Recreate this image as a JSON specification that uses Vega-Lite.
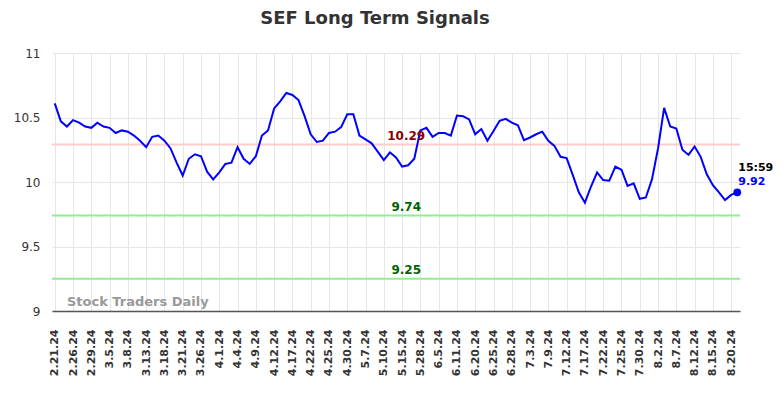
{
  "$schema": "https://vega.github.io/schema/vega-lite/v6.json",
  "width": 688,
  "height": 258,
  "autosize": "none",
  "padding": {"left": 52, "top": 53, "right": 44, "bottom": 87},
  "background": "white",
  "title": {"text": "SEF Long Term Signals", "anchor": "middle", "dx": -21, "offset": 19, "font": "DejaVu Sans", "fontSize": 18, "fontWeight": "bold", "color": "#333333"},
  "config": {"view": {"stroke": null}, "font": "DejaVu Sans"},
  "resolve": {"scale": {"color": "independent"}},
  "datasets": {
    "prices": [
      {"date": "2.21.24", "close": 10.61}, {"date": "2.22.24", "close": 10.47}, {"date": "2.23.24", "close": 10.43},
      {"date": "2.26.24", "close": 10.48}, {"date": "2.27.24", "close": 10.46}, {"date": "2.28.24", "close": 10.43},
      {"date": "2.29.24", "close": 10.42}, {"date": "3.1.24", "close": 10.46}, {"date": "3.4.24", "close": 10.43},
      {"date": "3.5.24", "close": 10.42}, {"date": "3.6.24", "close": 10.38}, {"date": "3.7.24", "close": 10.40},
      {"date": "3.8.24", "close": 10.39}, {"date": "3.11.24", "close": 10.36}, {"date": "3.12.24", "close": 10.32},
      {"date": "3.13.24", "close": 10.27}, {"date": "3.14.24", "close": 10.35}, {"date": "3.15.24", "close": 10.36},
      {"date": "3.18.24", "close": 10.32}, {"date": "3.19.24", "close": 10.26}, {"date": "3.20.24", "close": 10.15},
      {"date": "3.21.24", "close": 10.05}, {"date": "3.22.24", "close": 10.18}, {"date": "3.25.24", "close": 10.215},
      {"date": "3.26.24", "close": 10.20}, {"date": "3.27.24", "close": 10.08}, {"date": "3.28.24", "close": 10.02},
      {"date": "4.1.24", "close": 10.075}, {"date": "4.2.24", "close": 10.14}, {"date": "4.3.24", "close": 10.15},
      {"date": "4.4.24", "close": 10.27}, {"date": "4.5.24", "close": 10.18}, {"date": "4.8.24", "close": 10.14},
      {"date": "4.9.24", "close": 10.20}, {"date": "4.10.24", "close": 10.36}, {"date": "4.11.24", "close": 10.40},
      {"date": "4.12.24", "close": 10.57}, {"date": "4.15.24", "close": 10.625}, {"date": "4.16.24", "close": 10.69},
      {"date": "4.17.24", "close": 10.675}, {"date": "4.18.24", "close": 10.635}, {"date": "4.19.24", "close": 10.51},
      {"date": "4.22.24", "close": 10.37}, {"date": "4.23.24", "close": 10.31}, {"date": "4.24.24", "close": 10.32},
      {"date": "4.25.24", "close": 10.38}, {"date": "4.26.24", "close": 10.39}, {"date": "4.29.24", "close": 10.425},
      {"date": "4.30.24", "close": 10.525}, {"date": "5.2.24", "close": 10.525}, {"date": "5.6.24", "close": 10.36},
      {"date": "5.7.24", "close": 10.33}, {"date": "5.8.24", "close": 10.30}, {"date": "5.9.24", "close": 10.235},
      {"date": "5.10.24", "close": 10.17}, {"date": "5.13.24", "close": 10.23}, {"date": "5.14.24", "close": 10.19},
      {"date": "5.15.24", "close": 10.12}, {"date": "5.20.24", "close": 10.13}, {"date": "5.23.24", "close": 10.18},
      {"date": "5.28.24", "close": 10.40}, {"date": "5.30.24", "close": 10.42}, {"date": "6.3.24", "close": 10.35},
      {"date": "6.5.24", "close": 10.38}, {"date": "6.6.24", "close": 10.38}, {"date": "6.10.24", "close": 10.36},
      {"date": "6.11.24", "close": 10.515}, {"date": "6.13.24", "close": 10.51}, {"date": "6.17.24", "close": 10.485},
      {"date": "6.20.24", "close": 10.37}, {"date": "6.21.24", "close": 10.41}, {"date": "6.24.24", "close": 10.32},
      {"date": "6.25.24", "close": 10.395}, {"date": "6.26.24", "close": 10.475}, {"date": "6.27.24", "close": 10.49},
      {"date": "6.28.24", "close": 10.46}, {"date": "7.1.24", "close": 10.44}, {"date": "7.2.24", "close": 10.325},
      {"date": "7.3.24", "close": 10.345}, {"date": "7.5.24", "close": 10.37}, {"date": "7.8.24", "close": 10.39},
      {"date": "7.9.24", "close": 10.32}, {"date": "7.10.24", "close": 10.28}, {"date": "7.11.24", "close": 10.195},
      {"date": "7.12.24", "close": 10.185}, {"date": "7.15.24", "close": 10.055}, {"date": "7.16.24", "close": 9.92},
      {"date": "7.17.24", "close": 9.84}, {"date": "7.18.24", "close": 9.965}, {"date": "7.19.24", "close": 10.075},
      {"date": "7.22.24", "close": 10.015}, {"date": "7.23.24", "close": 10.01}, {"date": "7.24.24", "close": 10.12},
      {"date": "7.25.24", "close": 10.095}, {"date": "7.26.24", "close": 9.97}, {"date": "7.29.24", "close": 9.99},
      {"date": "7.30.24", "close": 9.87}, {"date": "7.31.24", "close": 9.88}, {"date": "8.1.24", "close": 10.02},
      {"date": "8.2.24", "close": 10.26}, {"date": "8.5.24", "close": 10.575}, {"date": "8.6.24", "close": 10.43},
      {"date": "8.7.24", "close": 10.415}, {"date": "8.8.24", "close": 10.25}, {"date": "8.9.24", "close": 10.21},
      {"date": "8.12.24", "close": 10.275}, {"date": "8.13.24", "close": 10.195}, {"date": "8.14.24", "close": 10.06},
      {"date": "8.15.24", "close": 9.975}, {"date": "8.16.24", "close": 9.92}, {"date": "8.19.24", "close": 9.86},
      {"date": "8.20.24", "close": 9.90}, {"date": "8.21.24", "close": 9.92, "time": "15:59"}
    ],
    "levels": [
      {"level": 10.29, "label": "10.29", "kind": "resistance", "date": "5.20.24"},
      {"level": 9.74, "label": "9.74", "kind": "support", "date": "5.20.24"},
      {"level": 9.25, "label": "9.25", "kind": "support2", "date": "5.20.24"}
    ]
  },
  "encoding": {
    "x": {
      "field": "date", "type": "ordinal", "sort": null, "title": null,
      "scale": {"type": "point", "padding": 0.45, "domain": ["2.21.24","2.22.24","2.23.24","2.26.24","2.27.24","2.28.24","2.29.24","3.1.24","3.4.24","3.5.24","3.6.24","3.7.24","3.8.24","3.11.24","3.12.24","3.13.24","3.14.24","3.15.24","3.18.24","3.19.24","3.20.24","3.21.24","3.22.24","3.25.24","3.26.24","3.27.24","3.28.24","4.1.24","4.2.24","4.3.24","4.4.24","4.5.24","4.8.24","4.9.24","4.10.24","4.11.24","4.12.24","4.15.24","4.16.24","4.17.24","4.18.24","4.19.24","4.22.24","4.23.24","4.24.24","4.25.24","4.26.24","4.29.24","4.30.24","5.2.24","5.6.24","5.7.24","5.8.24","5.9.24","5.10.24","5.13.24","5.14.24","5.15.24","5.20.24","5.23.24","5.28.24","5.30.24","6.3.24","6.5.24","6.6.24","6.10.24","6.11.24","6.13.24","6.17.24","6.20.24","6.21.24","6.24.24","6.25.24","6.26.24","6.27.24","6.28.24","7.1.24","7.2.24","7.3.24","7.5.24","7.8.24","7.9.24","7.10.24","7.11.24","7.12.24","7.15.24","7.16.24","7.17.24","7.18.24","7.19.24","7.22.24","7.23.24","7.24.24","7.25.24","7.26.24","7.29.24","7.30.24","7.31.24","8.1.24","8.2.24","8.5.24","8.6.24","8.7.24","8.8.24","8.9.24","8.12.24","8.13.24","8.14.24","8.15.24","8.16.24","8.19.24","8.20.24","8.21.24"]},
      "axis": {
        "values": ["2.21.24","2.26.24","2.29.24","3.5.24","3.8.24","3.13.24","3.18.24","3.21.24","3.26.24","4.1.24","4.4.24","4.9.24","4.12.24","4.17.24","4.22.24","4.25.24","4.30.24","5.7.24","5.10.24","5.15.24","5.28.24","6.5.24","6.11.24","6.20.24","6.25.24","6.28.24","7.3.24","7.9.24","7.12.24","7.17.24","7.22.24","7.25.24","7.30.24","8.2.24","8.7.24","8.12.24","8.15.24","8.20.24"],
        "labelAngle": -90, "labelFontSize": 11, "labelFontWeight": "bold", "labelColor": "#333333",
        "labelPadding": 18, "ticks": false, "grid": true, "gridColor": "#e6e6e6", "gridWidth": 1,
        "domain": true, "domainColor": "#555555", "domainWidth": 1.5
      }
    }
  },
  "layer": [
    {
      "data": {"name": "levels"},
      "mark": {"type": "rule", "strokeWidth": 2},
      "encoding": {
        "x": null,
        "y": {"field": "level", "type": "quantitative"},
        "color": {"field": "kind", "type": "nominal", "legend": null,
          "scale": {"domain": ["resistance", "support", "support2"], "range": ["#ffcccc", "#90ee90", "#90ee90"]}}
      }
    },
    {
      "data": {"name": "prices"},
      "mark": {"type": "line", "color": "#0000ff", "strokeWidth": 2},
      "encoding": {
        "y": {"field": "close", "type": "quantitative", "title": null,
          "scale": {"domain": [9, 11], "nice": false, "zero": false},
          "axis": {"values": [9, 9.5, 10, 10.5, 11], "format": "~g", "labelFontSize": 12, "labelColor": "#333333", "labelPadding": 12,
            "ticks": false, "domain": false, "grid": true, "gridColor": "#e6e6e6", "gridWidth": 1}}
      }
    },
    {
      "data": {"name": "levels"},
      "mark": {"type": "text", "fontSize": 12, "fontWeight": "bold", "align": "center", "baseline": "middle", "dx": -2, "dy": -8.5},
      "encoding": {
        "y": {"field": "level", "type": "quantitative"},
        "text": {"field": "label"},
        "color": {"field": "label", "type": "nominal", "legend": null,
          "scale": {"domain": ["10.29", "9.74", "9.25"], "range": ["#8b0000", "#006400", "#006400"]}}
      }
    },
    {
      "data": {"name": "prices"},
      "transform": [{"filter": {"field": "date", "equal": "8.21.24"}}],
      "layer": [
        {"mark": {"type": "point", "filled": true, "color": "#0000ff", "size": 60, "opacity": 1},
         "encoding": {"y": {"field": "close", "type": "quantitative"}}},
        {"mark": {"type": "text", "fontSize": 11, "fontWeight": "bold", "color": "#0000ff", "align": "left", "baseline": "middle", "dx": 1, "dy": -10},
         "encoding": {"y": {"field": "close", "type": "quantitative"}, "text": {"field": "close", "format": ".2f"}}},
        {"mark": {"type": "text", "fontSize": 11, "fontWeight": "bold", "color": "#000000", "align": "left", "baseline": "middle", "dx": 1, "dy": -24},
         "encoding": {"y": {"field": "close", "type": "quantitative"}, "text": {"field": "time"}}}
      ]
    },
    {
      "data": {"values": [{"note": "Stock Traders Daily"}]},
      "mark": {"type": "text", "fontSize": 13, "fontWeight": "bold", "color": "#999999", "align": "left", "baseline": "middle"},
      "encoding": {
        "x": {"datum": "2.23.24"},
        "y": {"datum": 9.07},
        "text": {"field": "note"}
      }
    }
  ]
}
